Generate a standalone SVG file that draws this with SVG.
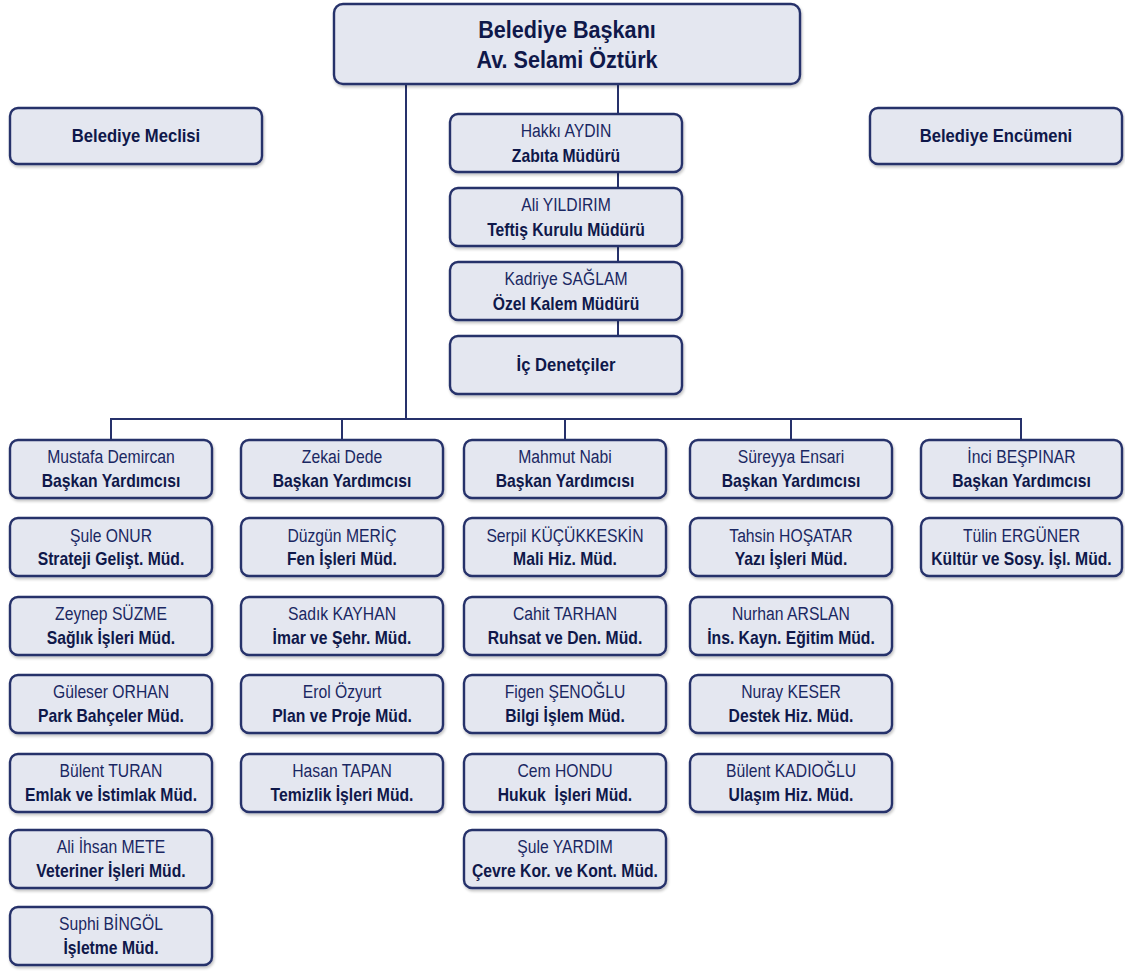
<svg xmlns="http://www.w3.org/2000/svg" width="1125" height="971" viewBox="0 0 1125 971">
<defs>
<filter id="sh" x="-10%" y="-10%" width="125%" height="135%">
<feGaussianBlur in="SourceAlpha" stdDeviation="1.5"/>
<feOffset dx="1" dy="2" result="b"/>
<feComponentTransfer><feFuncA type="linear" slope="0.25"/></feComponentTransfer>
<feMerge><feMergeNode/><feMergeNode in="SourceGraphic"/></feMerge>
</filter>
</defs>
<style>
rect.box{fill:#e4e7f0;stroke:#26316b;stroke-width:2.4;filter:url(#sh)}
text{font-family:"Liberation Sans",Arial,sans-serif;text-anchor:middle;transform-box:fill-box;transform-origin:center;transform:scaleX(0.85)}
.n{font-size:18.5px;fill:#1a2762}
.b{font-size:18.5px;font-weight:bold;fill:#0f184a}
.t{font-size:24px;font-weight:bold;fill:#0f184a;transform:scaleX(0.9)}
.s{font-size:18.5px;font-weight:bold;fill:#0f184a;transform:scaleX(0.9)}
.con{fill:none;stroke:#26316b;stroke-width:2}
</style>
<rect width="1125" height="971" fill="#ffffff"/>
<g id="connectors">
<path class="con" d="M406 84V419M111 440V419H1021V440M342 419V440M565 419V440M791 419V440M618 84V336"/>
</g>
<g id="baskan"><rect class="box" x="334" y="4" width="466" height="80" rx="9"/><text class="t" x="567" y="38">Belediye Başkanı</text><text class="t" x="567" y="68">Av. Selami Öztürk</text></g>
<g id="meclis"><rect class="box" x="10" y="108" width="252" height="56" rx="8"/><text class="s" x="136" y="142">Belediye Meclisi</text></g>
<g id="encumen"><rect class="box" x="870" y="108" width="252" height="56" rx="8"/><text class="s" x="996" y="142">Belediye Encümeni</text></g>
<g id="zabita"><rect class="box" x="450" y="114" width="232" height="58" rx="8"/><text class="n" x="566" y="137.5">Hakkı AYDIN</text><text class="b" x="566" y="162">Zabıta Müdürü</text></g>
<g id="teftis"><rect class="box" x="450" y="188" width="232" height="58" rx="8"/><text class="n" x="566" y="211.5">Ali YILDIRIM</text><text class="b" x="566" y="236">Teftiş Kurulu Müdürü</text></g>
<g id="ozelkalem"><rect class="box" x="450" y="262" width="232" height="58" rx="8"/><text class="n" x="566" y="285.5">Kadriye SAĞLAM</text><text class="b" x="566" y="310">Özel Kalem Müdürü</text></g>
<g id="icdenetci"><rect class="box" x="450" y="336" width="232" height="58" rx="8"/><text class="s" x="566" y="371">İç Denetçiler</text></g>

<g id="c1r1"><rect class="box" x="10" y="440" width="202" height="58" rx="8"/><text class="n" x="111" y="463.5">Mustafa Demircan</text><text class="b" x="111" y="487.5">Başkan Yardımcısı</text></g>
<g id="c1r2"><rect class="box" x="10" y="518" width="202" height="58" rx="8"/><text class="n" x="111" y="541.5">Şule ONUR</text><text class="b" x="111" y="565.5">Strateji Gelişt. Müd.</text></g>
<g id="c1r3"><rect class="box" x="10" y="597" width="202" height="58" rx="8"/><text class="n" x="111" y="620.5">Zeynep SÜZME</text><text class="b" x="111" y="644.5">Sağlık İşleri Müd.</text></g>
<g id="c1r4"><rect class="box" x="10" y="675" width="202" height="58" rx="8"/><text class="n" x="111" y="698.5">Güleser ORHAN</text><text class="b" x="111" y="722.5">Park Bahçeler Müd.</text></g>
<g id="c1r5"><rect class="box" x="10" y="754" width="202" height="58" rx="8"/><text class="n" x="111" y="777.5">Bülent TURAN</text><text class="b" x="111" y="801.5">Emlak ve İstimlak Müd.</text></g>
<g id="c1r6"><rect class="box" x="10" y="830" width="202" height="58" rx="8"/><text class="n" x="111" y="853.5">Ali İhsan METE</text><text class="b" x="111" y="877.5">Veteriner İşleri Müd.</text></g>
<g id="c1r7"><rect class="box" x="10" y="907" width="202" height="58" rx="8"/><text class="n" x="111" y="930.5">Suphi BİNGÖL</text><text class="b" x="111" y="954.5">İşletme Müd.</text></g>

<g id="c2r1"><rect class="box" x="241" y="440" width="202" height="58" rx="8"/><text class="n" x="342" y="463.5">Zekai Dede</text><text class="b" x="342" y="487.5">Başkan Yardımcısı</text></g>
<g id="c2r2"><rect class="box" x="241" y="518" width="202" height="58" rx="8"/><text class="n" x="342" y="541.5">Düzgün MERİÇ</text><text class="b" x="342" y="565.5">Fen İşleri Müd.</text></g>
<g id="c2r3"><rect class="box" x="241" y="597" width="202" height="58" rx="8"/><text class="n" x="342" y="620.5">Sadık KAYHAN</text><text class="b" x="342" y="644.5">İmar ve Şehr. Müd.</text></g>
<g id="c2r4"><rect class="box" x="241" y="675" width="202" height="58" rx="8"/><text class="n" x="342" y="698.5">Erol Özyurt</text><text class="b" x="342" y="722.5">Plan ve Proje Müd.</text></g>
<g id="c2r5"><rect class="box" x="241" y="754" width="202" height="58" rx="8"/><text class="n" x="342" y="777.5">Hasan TAPAN</text><text class="b" x="342" y="801.5">Temizlik İşleri Müd.</text></g>

<g id="c3r1"><rect class="box" x="464" y="440" width="202" height="58" rx="8"/><text class="n" x="565" y="463.5">Mahmut Nabi</text><text class="b" x="565" y="487.5">Başkan Yardımcısı</text></g>
<g id="c3r2"><rect class="box" x="464" y="518" width="202" height="58" rx="8"/><text class="n" x="565" y="541.5">Serpil KÜÇÜKKESKİN</text><text class="b" x="565" y="565.5">Mali Hiz. Müd.</text></g>
<g id="c3r3"><rect class="box" x="464" y="597" width="202" height="58" rx="8"/><text class="n" x="565" y="620.5">Cahit TARHAN</text><text class="b" x="565" y="644.5">Ruhsat ve Den. Müd.</text></g>
<g id="c3r4"><rect class="box" x="464" y="675" width="202" height="58" rx="8"/><text class="n" x="565" y="698.5">Figen ŞENOĞLU</text><text class="b" x="565" y="722.5">Bilgi İşlem Müd.</text></g>
<g id="c3r5"><rect class="box" x="464" y="754" width="202" height="58" rx="8"/><text class="n" x="565" y="777.5">Cem HONDU</text><text class="b" x="565" y="801.5" xml:space="preserve">Hukuk  İşleri Müd.</text></g>
<g id="c3r6"><rect class="box" x="464" y="830" width="202" height="58" rx="8"/><text class="n" x="565" y="853.5">Şule YARDIM</text><text class="b" x="565" y="877.5">Çevre Kor. ve Kont. Müd.</text></g>

<g id="c4r1"><rect class="box" x="690" y="440" width="202" height="58" rx="8"/><text class="n" x="791" y="463.5">Süreyya Ensari</text><text class="b" x="791" y="487.5">Başkan Yardımcısı</text></g>
<g id="c4r2"><rect class="box" x="690" y="518" width="202" height="58" rx="8"/><text class="n" x="791" y="541.5">Tahsin HOŞATAR</text><text class="b" x="791" y="565.5">Yazı İşleri Müd.</text></g>
<g id="c4r3"><rect class="box" x="690" y="597" width="202" height="58" rx="8"/><text class="n" x="791" y="620.5">Nurhan ARSLAN</text><text class="b" x="791" y="644.5">İns. Kayn. Eğitim Müd.</text></g>
<g id="c4r4"><rect class="box" x="690" y="675" width="202" height="58" rx="8"/><text class="n" x="791" y="698.5">Nuray KESER</text><text class="b" x="791" y="722.5">Destek Hiz. Müd.</text></g>
<g id="c4r5"><rect class="box" x="690" y="754" width="202" height="58" rx="8"/><text class="n" x="791" y="777.5">Bülent KADIOĞLU</text><text class="b" x="791" y="801.5">Ulaşım Hiz. Müd.</text></g>

<g id="c5r1"><rect class="box" x="921" y="440" width="201" height="58" rx="8"/><text class="n" x="1021.5" y="463.5">İnci BEŞPINAR</text><text class="b" x="1021.5" y="487.5">Başkan Yardımcısı</text></g>
<g id="c5r2"><rect class="box" x="921" y="518" width="201" height="58" rx="8"/><text class="n" x="1021.5" y="541.5">Tülin ERGÜNER</text><text class="b" x="1021.5" y="565.5">Kültür ve Sosy. İşl. Müd.</text></g>
</svg>
